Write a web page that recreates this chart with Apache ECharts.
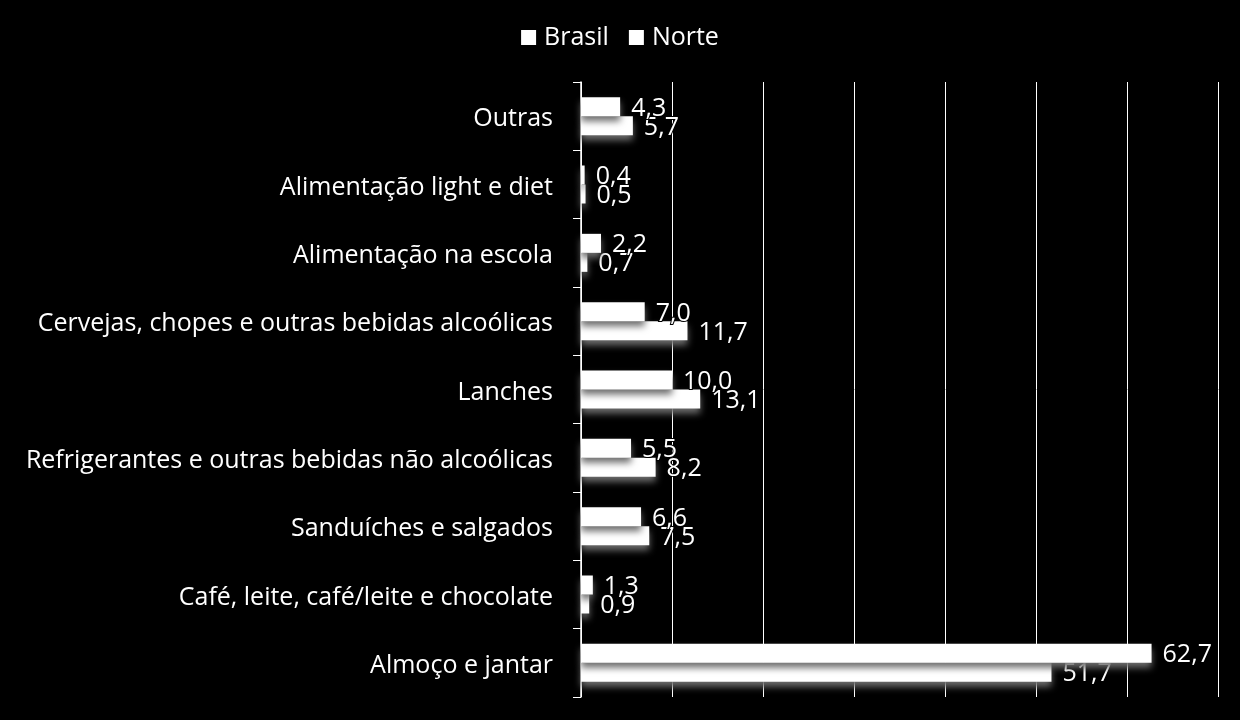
<!DOCTYPE html>
<html><head><meta charset="utf-8">
<script src="https://cdn.jsdelivr.net/npm/echarts@6/dist/echarts.min.js"></script>
<style>html,body{margin:0;padding:0;background:#000;}#c{width:1240px;height:720px;}</style>
</head><body><div id="c"></div>
<script>
const categories = ["Outras","Alimentação light e diet","Alimentação na escola","Cervejas, chopes e outras bebidas alcoólicas","Lanches","Refrigerantes e outras bebidas não alcoólicas","Sanduíches e salgados","Café, leite, café/leite e chocolate","Almoço e jantar"];
const brasil = [4.3,0.4,2.2,7.0,10.0,5.5,6.6,1.3,62.7];
const norte = [5.7,0.5,0.7,11.7,13.1,8.2,7.5,0.9,51.7];
const seriesNames = ["Brasil","Norte"];
const FONT = "Open Sans";
const chart = echarts.init(document.getElementById('c'));
function fmt(p){return p.value.toFixed(1).replace('.',',');}
const lbl = {show:true,position:'right',distance:11,offset:[0,2],color:'#fff',fontSize:25,fontFamily:FONT,formatter:fmt,textBorderColor:'#000',textBorderWidth:2};
const item = {color:'#fff',shadowColor:'rgba(110,110,110,1)',shadowBlur:7,shadowOffsetY:5};
chart.setOption({
  backgroundColor:'#000',
  animation:false,
  textStyle:{fontFamily:FONT},
  legend:{data:seriesNames,top:20,left:'center',itemWidth:15,itemHeight:15,itemGap:20,icon:'rect',textStyle:{color:'#fff',fontSize:25,fontFamily:FONT,padding:[0,0,0,3]}},
  grid:{left:581,right:22,top:82,bottom:23,containLabel:false},
  xAxis:{type:'value',min:0,max:70,interval:10,axisLabel:{show:false},axisLine:{show:false},axisTick:{show:false},splitLine:{show:true,lineStyle:{color:'#fff',width:1}}},
  yAxis:{type:'category',data:categories,inverse:true,axisLine:{show:true,lineStyle:{color:'#fff',width:1.5}},axisTick:{show:true,length:8,lineStyle:{color:'#fff'}},
    axisLabel:{color:'#fff',fontSize:25,fontFamily:FONT,margin:28,formatter:function(v){return '{a|'+v+'}';},rich:{a:{color:'#fff',fontSize:25,fontFamily:FONT,padding:[6,0,0,0]}}}},
  series:[
    {name:seriesNames[0],type:'bar',data:brasil,barWidth:19,barGap:'0%',itemStyle:item,label:lbl,z:3},
    {name:seriesNames[1],type:'bar',data:norte,barWidth:19,barGap:'0%',itemStyle:item,label:lbl,z:2}
  ]
});
</script></body></html>
